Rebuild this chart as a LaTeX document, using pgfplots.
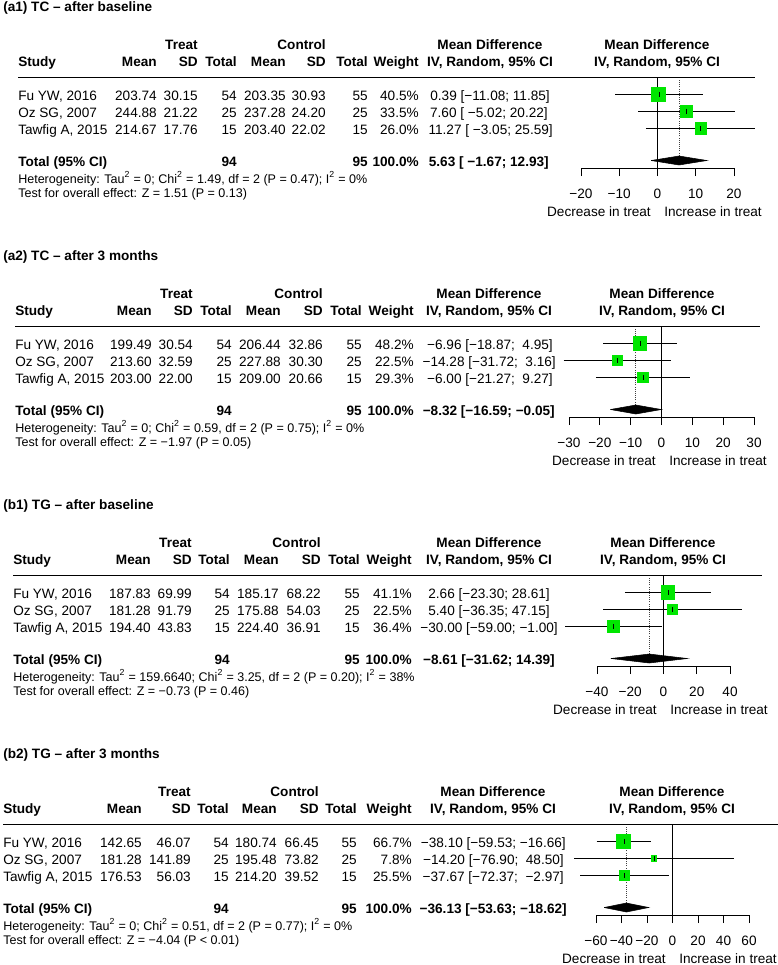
\documentclass[border=0pt]{standalone}
\usepackage{fontspec}
\setmainfont{Liberation Sans}
\usepackage{pgfplots}
\pgfplotsset{compat=1.18}
\definecolor{sqgreen}{RGB}{0,230,0}
\newcommand\fs{\fontsize{10.2}{12}\selectfont}
\newcommand\fh{\fontsize{9.4}{11}\selectfont}
\tikzset{L/.style={anchor=base west, inner sep=0pt, font=\fs},
         R/.style={anchor=base east, inner sep=0pt, font=\fs},
         C/.style={anchor=base, inner sep=0pt, font=\fs},
         B/.style={font=\fs\bfseries}}
\pgfplotsset{fp/.style={scale only axis, height=68.25pt, ymin=0, ymax=91,
   clip=false, enlargelimits=false, anchor=south west,
   axis x line=bottom, axis y line=none,
   axis line style={-, line width=0.6pt, black},
   tick align=outside, major tick length=6pt,
   xtick style={line width=0.6pt, black},
   tick label style={font=\fs},
   xticklabel shift=6pt},
  ci/.style={black, line width=0.6pt, mark=none},
  dot/.style={black!75, densely dotted, line width=0.6pt, mark=none},
  zero/.style={black, line width=0.6pt, mark=none},
  sq/.style={only marks, mark=square*, color=sqgreen, mark options={draw=sqgreen, fill=sqgreen, line width=0pt}},
  est/.style={only marks, mark=|, mark size=1.9pt, black, mark options={line width=0.6pt}},
  dia/.style={fill=black, draw=black, line width=0.4pt, mark=none}}

\newcommand\heads{%
 \node[R,B] at (\cB,\oy+49) {Treat};
 \node[R,B] at (\cE,\oy+49) {Control};
 \node[C,B] at (\cM,\oy+49) {Mean Difference};
 \node[C,B] at (\cZ,\oy+49) {Mean Difference};
 \node[L,B] at (\cS,\oy+66) {Study};
 \node[R,B] at (\cA,\oy+66) {Mean};
 \node[R,B] at (\cB,\oy+66) {SD};
 \node[R,B] at (\cC,\oy+66) {Total};
 \node[R,B] at (\cD,\oy+66) {Mean};
 \node[R,B] at (\cE,\oy+66) {SD};
 \node[R,B] at (\cF,\oy+66) {Total};
 \node[R,B] at (\cW,\oy+66) {Weight};
 \node[C,B] at (\cM,\oy+66) {IV, Random, 95\% CI};
 \node[C,B] at (\cZ,\oy+66) {IV, Random, 95\% CI};
 \draw[line width=0.75pt] (\cS,\oy+77) -- (\cH,\oy+77);
 \node[L,B] at (\cS,\oy+166) {Total (95\% CI)};
 \node[R,B] at (\cC,\oy+166) {94};
 \node[R,B] at (\cF,\oy+166) {95};
 \node[R,B] at (\cW,\oy+166) {100.0\%};
 \node[R] at (\cZ-6,\oy+216) {Decrease in treat};
 \node[L] at (\cZ+7,\oy+216) {Increase in treat};
}
\newcommand\datarow[9]{%
 \node[L] at (\cS,\oy+#1) {#2};
 \node[R] at (\cA,\oy+#1) {#3};
 \node[R] at (\cB,\oy+#1) {#4};
 \node[R] at (\cC,\oy+#1) {#5};
 \node[R] at (\cD,\oy+#1) {#6};
 \node[R] at (\cE,\oy+#1) {#7};
 \node[R] at (\cF,\oy+#1) {#8};
 \node[R] at (\cW,\oy+#1) {#9\%};
}

\begin{document}
\begin{tikzpicture}
\begin{scope}[x=0.75pt,y=-0.75pt]
\useasboundingbox (0,0) rectangle (778,965);

% ================= (a1) =================
\def\oy{0}\def\cS{18}\def\cA{157}\def\cB{198}\def\cC{237}\def\cD{286}\def\cE{326}\def\cF{368}\def\cW{419}\def\cM{490}\def\cZ{657}\def\cH{755}
\node[L,B] at (3,\oy+11) {(a1) TC – after baseline};
\heads
\datarow{100}{Fu YW, 2016}{203.74}{30.15}{54}{203.35}{30.93}{55}{40.5}
\datarow{117}{Oz SG, 2007}{244.88}{21.22}{25}{237.28}{24.20}{25}{33.5}
\datarow{134}{Tawfig A, 2015}{214.67}{17.76}{15}{203.40}{22.02}{15}{26.0}
\node[R] at (550,\oy+100) {0.39 [−11.08; 11.85]};
\node[R] at (548,\oy+117) {7.60 [ −5.02; 20.22]};
\node[R] at (553,\oy+134) {11.27 [ −3.05; 25.59]};
\node[R,B] at (549,\oy+166) {5.63 [ −1.67; 12.93]};
\node[L,font=\fh] at (\cS,\oy+183) {Heterogeneity: Tau\textsuperscript{2} = 0; Chi\textsuperscript{2} = 1.49, df = 2 (P = 0.47); I\textsuperscript{2} = 0\%};
\node[L,font=\fh] at (\cS,\oy+197.5) {Test for overall effect: Z = 1.51 (P = 0.13)};

% ================= (a2) =================
\def\oy{249}\def\cS{15}\def\cA{152}\def\cB{193}\def\cC{232}\def\cD{281}\def\cE{323}\def\cF{362}\def\cW{414}\def\cM{489}\def\cZ{662}\def\cH{760}
\node[L,B] at (3,\oy+11) {(a2) TC – after 3 months};
\heads
\datarow{100}{Fu YW, 2016}{199.49}{30.54}{54}{206.44}{32.86}{55}{48.2}
\datarow{117}{Oz SG, 2007}{213.60}{32.59}{25}{227.88}{30.30}{25}{22.5}
\datarow{134}{Tawfig A, 2015}{203.00}{22.00}{15}{209.00}{20.66}{15}{29.3}
\node[R] at (553,\oy+100) {−6.96 [−18.87;\ \ 4.95]};
\node[R] at (556,\oy+117) {−14.28 [−31.72;\ \ 3.16]};
\node[R] at (553,\oy+134) {−6.00 [−21.27;\ \ 9.27]};
\node[R,B] at (555,\oy+166) {−8.32 [−16.59; −0.05]};
\node[L,font=\fh] at (\cS,\oy+183) {Heterogeneity: Tau\textsuperscript{2} = 0; Chi\textsuperscript{2} = 0.59, df = 2 (P = 0.75); I\textsuperscript{2} = 0\%};
\node[L,font=\fh] at (\cS,\oy+197.5) {Test for overall effect: Z = −1.97 (P = 0.05)};

% ================= (b1) =================
\def\oy{498}\def\cS{13}\def\cA{151}\def\cB{192}\def\cC{230}\def\cD{279}\def\cE{321}\def\cF{360}\def\cW{412}\def\cM{489}\def\cZ{663}\def\cH{762}
\node[L,B] at (3,\oy+11) {(b1) TG – after baseline};
\heads
\datarow{100}{Fu YW, 2016}{187.83}{69.99}{54}{185.17}{68.22}{55}{41.1}
\datarow{117}{Oz SG, 2007}{181.28}{91.79}{25}{175.88}{54.03}{25}{22.5}
\datarow{134}{Tawfig A, 2015}{194.40}{43.83}{15}{224.40}{36.91}{15}{36.4}
\node[R] at (550,\oy+100) {2.66 [−23.30; 28.61]};
\node[R] at (550,\oy+117) {5.40 [−36.35; 47.15]};
\node[R] at (558,\oy+134) {−30.00 [−59.00; −1.00]};
\node[R,B] at (555,\oy+166) {−8.61 [−31.62; 14.39]};
\node[L,font=\fh] at (\cS,\oy+183) {Heterogeneity: Tau\textsuperscript{2} = 159.6640; Chi\textsuperscript{2} = 3.25, df = 2 (P = 0.20); I\textsuperscript{2} = 38\%};
\node[L,font=\fh] at (\cS,\oy+197.5) {Test for overall effect: Z = −0.73 (P = 0.46)};

% ================= (b2) =================
\def\oy{747}\def\cS{3}\def\cA{142}\def\cB{191}\def\cC{229}\def\cD{277}\def\cE{319}\def\cF{357}\def\cW{412}\def\cM{493}\def\cZ{672}\def\cH{778}
\node[L,B] at (3,\oy+11) {(b2) TG – after 3 months};
\heads
\datarow{100}{Fu YW, 2016}{142.65}{46.07}{54}{180.74}{66.45}{55}{66.7}
\datarow{117}{Oz SG, 2007}{181.28}{141.89}{25}{195.48}{73.82}{25}{7.8}
\datarow{134}{Tawfig A, 2015}{176.53}{56.03}{15}{214.20}{39.52}{15}{25.5}
\node[R] at (566,\oy+100) {−38.10 [−59.53; −16.66]};
\node[R] at (564,\oy+117) {−14.20 [−76.90;\ \ 48.50]};
\node[R] at (564,\oy+134) {−37.67 [−72.37;\ \ −2.97]};
\node[R,B] at (567,\oy+166) {−36.13 [−53.63; −18.62]};
\node[L,font=\fh] at (\cS,\oy+183) {Heterogeneity: Tau\textsuperscript{2} = 0; Chi\textsuperscript{2} = 0.51, df = 2 (P = 0.77); I\textsuperscript{2} = 0\%};
\node[L,font=\fh] at (\cS,\oy+197.5) {Test for overall effect: Z = −4.04 (P < 0.01)};
\end{scope}

% ---------- forest axes (positions in pt: x_px*0.75, -y_px*0.75) ----------
\begin{axis}[fp, at={(435.75pt,-126pt)}, width=114.75pt, xmin=-20, xmax=20,
   xtick={-20,-10,0,10,20}, xticklabels={−20,−10,0,10,20}]
\addplot[zero] coordinates {(0,0) (0,91)};
\addplot[dot] coordinates {(5.63,4) (5.63,88)};
\addplot[ci] coordinates {(-11.08,73.5) (11.85,73.5)};
\addplot[ci] coordinates {(-5.02,56.5) (20.22,56.5)};
\addplot[ci] coordinates {(-3.05,39.5) (25.59,39.5)};
\addplot[sq, mark size=5.25pt] coordinates {(0.39,73.5)};
\addplot[sq, mark size=4.75pt] coordinates {(7.60,56.5)};
\addplot[sq, mark size=4.2pt] coordinates {(11.27,39.5)};
\addplot[est] coordinates {(0.39,73.5) (7.60,56.5) (11.27,39.5)};
\addplot[dia] coordinates {(-1.67,7.5) (5.63,12) (12.93,7.5) (5.63,3) (-1.67,7.5)};
\end{axis}

\begin{axis}[fp, at={(426.75pt,-312.75pt)}, width=138.75pt, xmin=-30, xmax=30,
   xtick={-30,-20,-10,0,10,20,30}, xticklabels={−30,−20,−10,0,10,20,30}]
\addplot[zero] coordinates {(0,0) (0,91)};
\addplot[dot] coordinates {(-8.32,4) (-8.32,88)};
\addplot[ci] coordinates {(-18.87,73.5) (4.95,73.5)};
\addplot[ci] coordinates {(-31.72,56.5) (3.16,56.5)};
\addplot[ci] coordinates {(-21.27,39.5) (9.27,39.5)};
\addplot[sq, mark size=5pt] coordinates {(-6.96,73.5)};
\addplot[sq, mark size=3.6pt] coordinates {(-14.28,56.5)};
\addplot[sq, mark size=4pt] coordinates {(-6.00,39.5)};
\addplot[est] coordinates {(-6.96,73.5) (-14.28,56.5) (-6.00,39.5)};
\addplot[dia] coordinates {(-16.59,7.5) (-8.32,12) (-0.05,7.5) (-8.32,3) (-16.59,7.5)};
\end{axis}

\begin{axis}[fp, at={(447.75pt,-499.5pt)}, width=99.75pt, xmin=-40, xmax=40,
   xtick={-40,-20,0,20,40}, xticklabels={−40,−20,0,20,40}]
\addplot[zero] coordinates {(0,0) (0,91)};
\addplot[dot] coordinates {(-8.61,4) (-8.61,88)};
\addplot[ci] coordinates {(-23.30,73.5) (28.61,73.5)};
\addplot[ci] coordinates {(-36.35,56.5) (47.15,56.5)};
\addplot[ci] coordinates {(-59.00,39.5) (-1.00,39.5)};
\addplot[sq, mark size=5pt] coordinates {(2.66,73.5)};
\addplot[sq, mark size=3.8pt] coordinates {(5.40,56.5)};
\addplot[sq, mark size=4.7pt] coordinates {(-30.00,39.5)};
\addplot[est] coordinates {(2.66,73.5) (5.40,56.5) (-30.00,39.5)};
\addplot[dia] coordinates {(-31.62,7.5) (-8.61,12) (14.39,7.5) (-8.61,3) (-31.62,7.5)};
\end{axis}

\begin{axis}[fp, at={(447pt,-686.25pt)}, width=114.75pt, xmin=-60, xmax=60,
   xtick={-60,-40,-20,0,20,40,60}, xticklabels={−60,−40,−20,0,20,40,60}]
\addplot[zero] coordinates {(0,0) (0,91)};
\addplot[dot] coordinates {(-36.13,4) (-36.13,88)};
\addplot[ci] coordinates {(-59.53,73.5) (-16.66,73.5)};
\addplot[ci] coordinates {(-76.90,56.5) (48.50,56.5)};
\addplot[ci] coordinates {(-72.37,39.5) (-2.97,39.5)};
\addplot[sq, mark size=5.25pt] coordinates {(-38.10,73.5)};
\addplot[sq, mark size=1.9pt] coordinates {(-14.20,56.5)};
\addplot[sq, mark size=3.4pt] coordinates {(-37.67,39.5)};
\addplot[est] coordinates {(-38.10,73.5) (-14.20,56.5) (-37.67,39.5)};
\addplot[dia] coordinates {(-53.63,7.5) (-36.13,12) (-18.62,7.5) (-36.13,3) (-53.63,7.5)};
\end{axis}
\end{tikzpicture}
\end{document}
